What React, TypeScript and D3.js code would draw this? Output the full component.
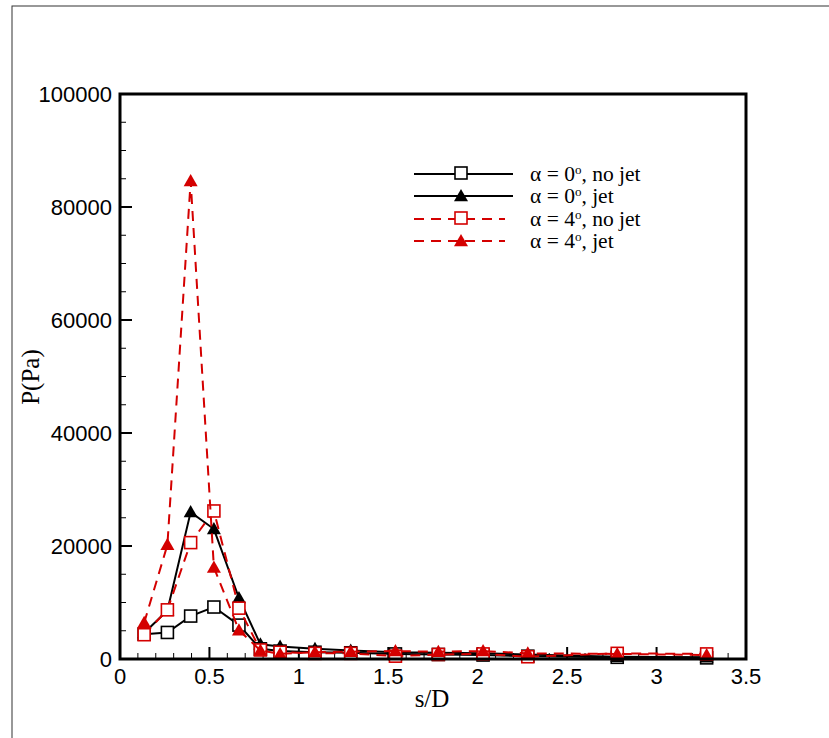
import React from "react";
import * as d3 from "d3";

// s/D stations
const sValues = [0.135, 0.265, 0.395, 0.525, 0.665, 0.785, 0.895, 1.09, 1.29, 1.54, 1.78, 2.03, 2.28, 2.78, 3.28];

// P(Pa) for each case
const a0NoJet = [4400, 4700, 7600, 9200, 6000, 1800, 1400, 1200, 1100, 900, 800, 700, 500, 300, 200];
const a0Jet = [4600, 8600, 26000, 23000, 10800, 2600, 2200, 1800, 1500, 1200, 1100, 1000, 800, 400, 300];
const a4NoJet = [4300, 8700, 20600, 26200, 9000, 1600, 1200, 1000, 1000, 500, 800, 900, 400, 1000, 900];
const a4Jet = [6400, 20200, 84600, 16200, 5100, 1500, 900, 1200, 1300, 1400, 1300, 1400, 1000, 900, 700];

const xTicks = [0, 0.5, 1, 1.5, 2, 2.5, 3, 3.5];
const yTicks = [0, 20000, 40000, 60000, 80000, 100000];

const series = [
  { label: "0", tail: ", no jet", values: a0NoJet, color: "#000000", dash: "", marker: "square" },
  { label: "0", tail: ", jet", values: a0Jet, color: "#000000", dash: "", marker: "triangle" },
  { label: "4", tail: ", no jet", values: a4NoJet, color: "#d40000", dash: "10,7", marker: "square" },
  { label: "4", tail: ", jet", values: a4Jet, color: "#d40000", dash: "10,7", marker: "triangle" },
];

const margin = { left: 120, top: 94, right: 746, bottom: 659 };
const serif = "'Liberation Serif', 'Times New Roman', serif";

function Marker({ kind, x, y, color }: { kind: string; x: number; y: number; color: string }) {
  if (kind === "square") {
    return <rect x={x - 6} y={y - 6} width={12} height={12} fill="#fff" stroke={color} strokeWidth={1.6} />;
  }
  const s = 7;
  return <path d={`M${x},${y - s}L${x + s},${y + s * 0.75}L${x - s},${y + s * 0.75}Z`} fill={color} />;
}

export default function App() {
  const x = d3.scaleLinear().domain([0, 3.5]).range([margin.left, margin.right]);
  const y = d3.scaleLinear().domain([0, 100000]).range([margin.bottom, margin.top]);
  const line = d3.line<number>().x((_, i) => x(sValues[i])).y((d) => y(d));

  const xMinor = d3.range(0, 36).map((i) => i / 10).filter((v) => Math.abs(v * 2 - Math.round(v * 2)) > 1e-6);
  const yMinor = d3.range(0, 100001, 5000).filter((v) => v % 20000 !== 0);

  const legendX0 = 414, legendX1 = 513, legendMark = 461, legendText = 530;
  const legendRows = [174, 196, 219, 241];

  return (
    <svg width={829} height={738} style={{ position: "absolute", left: 0, top: 0, background: "#fff" }}>
      <rect x={12} y={6} width={830} height={740} fill="none" stroke="#333" strokeWidth={1} />

      {/* minor/major ticks */}
      <g stroke="#000">
        {xMinor.map((v) => (
          <line key={"xm" + v} x1={x(v)} x2={x(v)} y1={margin.bottom} y2={margin.bottom - 6} strokeWidth={1} />
        ))}
        {xTicks.map((v) => (
          <line key={"xM" + v} x1={x(v)} x2={x(v)} y1={margin.bottom} y2={margin.bottom - 12} strokeWidth={2} />
        ))}
        {yMinor.map((v) => (
          <line key={"ym" + v} x1={margin.left} x2={margin.left + 6} y1={y(v)} y2={y(v)} strokeWidth={1} />
        ))}
        {yTicks.map((v) => (
          <line key={"yM" + v} x1={margin.left} x2={margin.left + 12} y1={y(v)} y2={y(v)} strokeWidth={2} />
        ))}
      </g>

      {/* series */}
      {series.map((s, k) => (
        <g key={"s" + k}>
          <path d={line(s.values) || ""} fill="none" stroke={s.color} strokeWidth={2} strokeDasharray={s.dash} />
          {s.values.map((v, i) => (
            <Marker key={i} kind={s.marker} x={x(sValues[i])} y={y(v)} color={s.color} />
          ))}
        </g>
      ))}

      <rect x={margin.left} y={margin.top} width={margin.right - margin.left} height={margin.bottom - margin.top}
        fill="none" stroke="#000" strokeWidth={3} />

      {/* tick labels */}
      <g fontFamily="'Liberation Sans', Arial, sans-serif" fontSize={22} fill="#000">
        {xTicks.map((v) => (
          <text key={"xl" + v} x={x(v)} y={margin.bottom + 25} textAnchor="middle">{d3.format("")(v)}</text>
        ))}
        {yTicks.map((v) => (
          <text key={"yl" + v} x={112} y={y(v) + 8} textAnchor="end">{v}</text>
        ))}
      </g>

      <g fontFamily={serif} fontSize={25} fill="#000">
        <text x={432} y={707} textAnchor="middle">s/D</text>
        <text transform="translate(39,377) rotate(-90)" textAnchor="middle">P(Pa)</text>
      </g>

      {/* legend */}
      {series.map((s, k) => (
        <g key={"lg" + k}>
          <line x1={legendX0} x2={s.dash ? 505 : legendX1} y1={legendRows[k]} y2={legendRows[k]} stroke={s.color}
            strokeWidth={2} strokeDasharray={s.dash} />
          <Marker kind={s.marker} x={legendMark} y={legendRows[k] - (s.marker === "square" ? 1 : 0)} color={s.color} />
          <text x={legendText} y={legendRows[k] + 7} fontFamily={serif} fontSize={21.5}>
            {"\u03b1 = " + s.label}
            <tspan dy={-7} fontSize={13}>o</tspan>
            <tspan dy={7}>{s.tail}</tspan>
          </text>
        </g>
      ))}
    </svg>
  );
}
